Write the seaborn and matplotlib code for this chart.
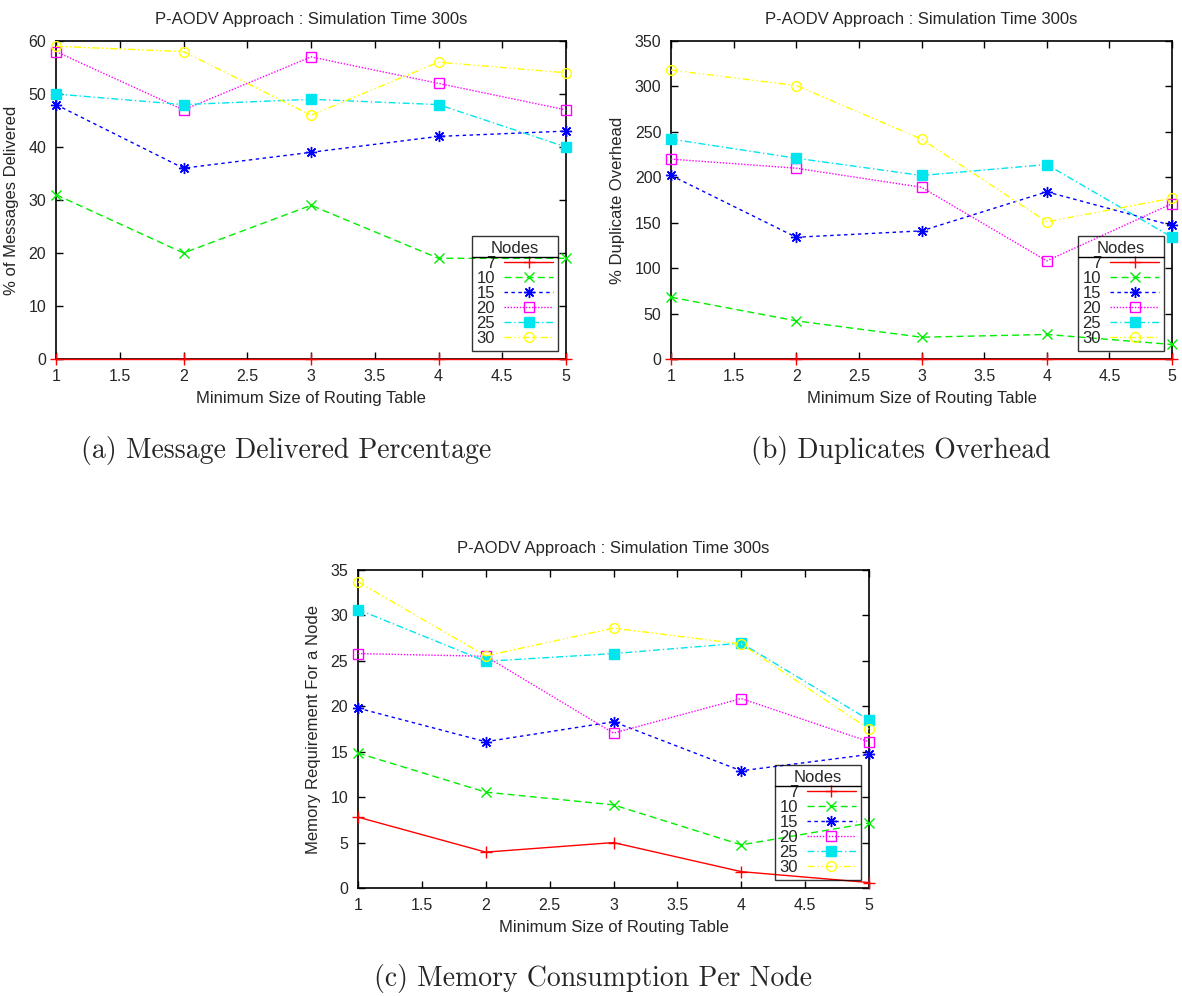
import numpy as np
import pandas as pd
import matplotlib
matplotlib.use("Agg")
import matplotlib.pyplot as plt
from matplotlib.lines import Line2D
import seaborn as sns

# ---------------- data ----------------
table_size = [1, 2, 3, 4, 5]
nodes = ["7", "10", "15", "20", "25", "30"]

delivered = {
    "7":  [0, 0, 0, 0, 0],
    "10": [31, 20, 29, 19, 19],
    "15": [48, 36, 39, 42, 43],
    "20": [58, 47, 57, 52, 47],
    "25": [50, 48, 49, 48, 40],
    "30": [59, 58, 46, 56, 54],
}
duplicates = {
    "7":  [0, 0, 0, 0, 0],
    "10": [68, 42, 24, 27, 16],
    "15": [202, 134, 141, 184, 147],
    "20": [220, 210, 189, 108, 171],
    "25": [242, 221, 202, 214, 134],
    "30": [318, 301, 242, 151, 177],
}
memory = {
    "7":  [7.8, 3.95, 5.0, 1.8, 0.6],
    "10": [14.85, 10.55, 9.15, 4.75, 7.15],
    "15": [19.8, 16.1, 18.3, 12.9, 14.7],
    "20": [25.8, 25.5, 17.05, 20.85, 16.1],
    "25": [30.65, 24.95, 25.8, 26.95, 18.5],
    "30": [33.7, 25.55, 28.6, 26.85, 17.5],
}

title = "P-AODV Approach : Simulation Time 300s"
xlabel = "Minimum Size of Routing Table"
ylabels = ["% of Messages Delivered", "% Duplicate Overhead", "Memory Requirement For a Node"]
captions = ["(a) Message Delivered Percentage", "(b) Duplicates Overhead",
            "(c) Memory Consumption Per Node"]
ylims = [60, 350, 35]
ysteps = [10, 50, 5]
xticks = [1, 1.5, 2, 2.5, 3, 3.5, 4, 4.5, 5]
xticklabels = ["1", "1.5", "2", "2.5", "3", "3.5", "4", "4.5", "5"]

# ---------------- styles ----------------
colors = ["#ff0000", "#00ee00", "#0000ff", "#ff00ff", "#00e5ee", "#ffff00"]
lstyles = ["-", (0, (5, 3)), (0, (2.5, 2.5)), (0, (1, 1.2)),
           (0, (5, 2, 1, 2)), (0, (5, 2, 1, 2, 1, 2))]
markers = ["+", "x", (8, 2, 0), "s", "s", "o"]
mfcs = ["none", "none", "none", "none", None, "none"]
msizes = [8, 7, 8, 7, 7, 7]

sns.set_style("ticks")
plt.rcParams["font.family"] = ["Liberation Sans", "DejaVu Sans"]
plt.rcParams["font.size"] = 12

fig = plt.figure(figsize=(11.82, 9.96), dpi=100)
W, H = 1182, 996
boxes = [(56, 41, 566, 359), (671, 41, 1172, 359), (358, 570, 869, 888)]
caption_pos = [(286, 450), (901, 450), (593, 978)]

axes = []
for k, (data, box) in enumerate(zip([delivered, duplicates, memory], boxes)):
    x0, y0, x1, y1 = box
    ax = fig.add_axes([x0 / W, 1 - y1 / H, (x1 - x0) / W, (y1 - y0) / H])
    axes.append(ax)
    for i, n in enumerate(nodes):
        df = pd.DataFrame({"x": table_size, "y": data[n]})
        c = colors[i]
        kw = dict(color=c, linestyle=lstyles[i], marker=markers[i], markersize=msizes[i],
                  markeredgecolor=c, markeredgewidth=1.0, linewidth=1.0, clip_on=False)
        if mfcs[i] is not None:
            kw["markerfacecolor"] = mfcs[i]
        else:
            kw["markerfacecolor"] = c
        sns.lineplot(data=df, x="x", y="y", ax=ax, label=n, estimator=None,
                     sort=False, zorder=3 + i, **kw)
    ax.set_xlim(1, 5)
    ax.set_ylim(0, ylims[k])
    ax.set_yticks(np.arange(0, ylims[k] + 1e-9, ysteps[k]))
    ax.set_xticks(xticks)
    ax.set_xticklabels(xticklabels)
    ax.tick_params(direction="in", top=True, right=True, length=5, width=1,
                   labelsize=11.5, pad=7, color="black")
    for s in ax.spines.values():
        s.set_linewidth(1.2)
        s.set_color("black")
    ax.set_title(title, fontsize=12, pad=12)
    ax.set_xlabel(xlabel, fontsize=12, labelpad=5)
    ax.set_ylabel(ylabels[k], fontsize=12, labelpad=7)
    leg = ax.legend(loc="lower right", title="Nodes", markerfirst=False,
                    fontsize=12, title_fontsize=12, frameon=True, fancybox=False,
                    facecolor="none", edgecolor="black", framealpha=None,
                    handlelength=2.9, handletextpad=0.55, labelspacing=0.0,
                    borderpad=0.3, borderaxespad=0.5)
    leg.get_frame().set_linewidth(1.0)
    leg.set_zorder(10)
    cx, cy = caption_pos[k]
    fig.text(cx / W, 1 - cy / H, captions[k], ha="center", va="center",
             fontsize=20, family=["cmr10", "DejaVu Serif"])

# horizontal rule under the legend titles
fig.canvas.draw()
r = fig.canvas.get_renderer()
for ax in axes:
    leg = ax.get_legend()
    fb = leg.get_frame().get_window_extent(r)
    tb = leg.get_title().get_window_extent(r)
    yline = tb.y0 - 1
    fig.add_artist(Line2D([fb.x0 / W, fb.x1 / W], [yline / H, yline / H],
                          color="black", linewidth=1.0, transform=fig.transFigure))

fig.savefig("out.png", dpi=100)
